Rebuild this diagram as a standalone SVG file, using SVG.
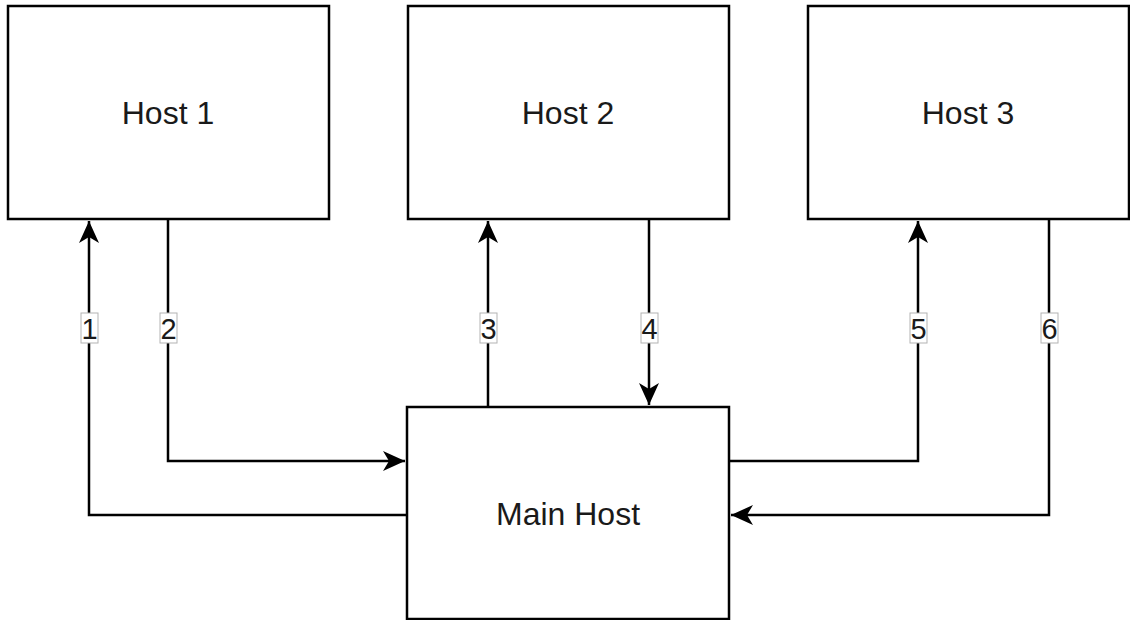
<svg xmlns="http://www.w3.org/2000/svg" width="1130" height="620" viewBox="0 0 1130 620">
  <style>
    .box { fill: #ffffff; stroke: #000000; stroke-width: 2.5; }
    .title { font-family: "Liberation Sans", Arial, sans-serif; font-size: 32px; fill: #1a1a1a; text-anchor: middle; }
    .edge { fill: none; stroke: #000000; stroke-width: 2.5; }
    .tag { fill: #ffffff; stroke: #b3b3b3; stroke-width: 1; }
    .num { font-family: "Liberation Sans", Arial, sans-serif; font-size: 29px; fill: #1a1a1a; text-anchor: middle; }
  </style>
  <defs>
    <marker id="arrow" viewBox="0 0 22 22" refX="22" refY="11" markerWidth="22" markerHeight="22" markerUnits="userSpaceOnUse" orient="auto">
      <path d="M0,1 L22,11 L0,21 L6,11 Z" fill="#000000"/>
    </marker>
  </defs>
  <rect width="1130" height="620" fill="#ffffff"/>

  <g id="host-1">
    <rect class="box" x="8" y="6" width="321" height="213"/>
    <text class="title" x="168" y="124">Host 1</text>
  </g>
  <g id="host-2">
    <rect class="box" x="408" y="6" width="321" height="213"/>
    <text class="title" x="568" y="124">Host 2</text>
  </g>
  <g id="host-3">
    <rect class="box" x="808" y="6" width="321" height="213"/>
    <text class="title" x="968" y="124">Host 3</text>
  </g>
  <g id="main-host">
    <rect class="box" x="407" y="407" width="322" height="212"/>
    <text class="title" x="568" y="525">Main Host</text>
  </g>

  <g id="connectors">
    <path class="edge" d="M407,515 H89 V221" marker-end="url(#arrow)"/>
    <path class="edge" d="M168,219 V461 H405" marker-end="url(#arrow)"/>
    <path class="edge" d="M488,407 V221" marker-end="url(#arrow)"/>
    <path class="edge" d="M649,219 V405" marker-end="url(#arrow)"/>
    <path class="edge" d="M729,461 H918 V221" marker-end="url(#arrow)"/>
    <path class="edge" d="M1049,219 V515 H731" marker-end="url(#arrow)"/>

    <rect class="tag" x="81" y="313" width="17" height="30"/>
    <text class="num" x="89.5" y="338.5">1</text>
    <rect class="tag" x="160" y="313" width="17" height="30"/>
    <text class="num" x="168.5" y="338.5">2</text>
    <rect class="tag" x="480" y="313" width="17" height="30"/>
    <text class="num" x="488.5" y="338.5">3</text>
    <rect class="tag" x="641" y="313" width="17" height="30"/>
    <text class="num" x="649.5" y="338.5">4</text>
    <rect class="tag" x="910" y="313" width="17" height="30"/>
    <text class="num" x="918.5" y="338.5">5</text>
    <rect class="tag" x="1041" y="313" width="17" height="30"/>
    <text class="num" x="1049.5" y="338.5">6</text>
  </g>
</svg>
